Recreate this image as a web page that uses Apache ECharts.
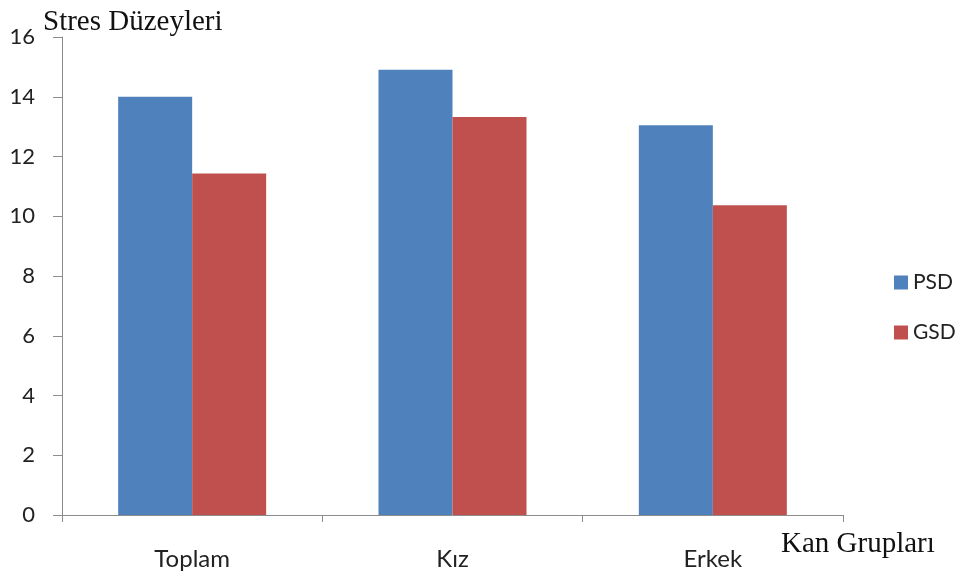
<!DOCTYPE html>
<html>
<head>
<meta charset="utf-8">
<script src="https://cdn.jsdelivr.net/npm/echarts@6/dist/echarts.min.js"></script>
<style>
  html, body { margin: 0; padding: 0; background: #fff; }
  #chart { width: 960px; height: 575px; }
</style>
</head>
<body>
<div id="chart"></div>
<script>
// categories (blood groups) and the two series
var categories = ['Toplam', 'Kız', 'Erkek'];
var psdValues = [14.0, 14.9, 13.05];
var gsdValues = [11.43, 13.32, 10.37];
var yTicks = { min: 0, max: 16, interval: 2 };

var myChart = echarts.init(document.getElementById('chart'), null, {renderer: 'canvas'});

var option = {
    backgroundColor: '#fff',
    animation: false,
    title: [
        {
            text: 'Stres Düzeyleri',
            left: 38, top: 3,
            textStyle: { fontFamily: 'Liberation Serif', fontSize: 29, fontWeight: 'normal', color: '#111' }
        },
        {
            text: 'Kan Grupları',
            left: 776, top: 525,
            textStyle: { fontFamily: 'Liberation Serif', fontSize: 29, fontWeight: 'normal', color: '#111' }
        }
    ],
    legend: {
        orient: 'vertical',
        left: 889, top: 267,
        itemWidth: 14, itemHeight: 14,
        itemGap: 29,
        icon: 'rect',
        textStyle: { fontFamily: 'Lato', fontSize: 21, color: '#222' },
        data: ['PSD', 'GSD']
    },
    grid: { left: 62, right: 117, top: 37, bottom: 60, containLabel: false },
    xAxis: {
        type: 'category',
        data: categories,
        axisLine: { lineStyle: { color: '#8c8c8c', width: 1 } },
        axisTick: { show: true, length: 7, alignWithLabel: false, lineStyle: { color: '#8c8c8c' } },
        axisLabel: { margin: 32, fontFamily: 'Lato', fontSize: 24, color: '#222' }
    },
    yAxis: {
        type: 'value',
        min: yTicks.min, max: yTicks.max, interval: yTicks.interval,
        axisLine: { show: true, lineStyle: { color: '#8c8c8c', width: 1 } },
        axisTick: { show: true, length: 9, inside: false, lineStyle: { color: '#8c8c8c' } },
        splitLine: { show: false },
        axisLabel: { margin: 27, fontFamily: 'Lato', fontSize: 22, color: '#222' }
    },
    series: [
        {
            name: 'PSD',
            type: 'bar',
            data: psdValues,
            barWidth: 74,
            barGap: '0%',
            itemStyle: { color: '#4F81BD' }
        },
        {
            name: 'GSD',
            type: 'bar',
            data: gsdValues,
            barWidth: 74,
            barGap: '0%',
            itemStyle: { color: '#C0504D' }
        }
    ]
};
myChart.setOption(option);
</script>
</body>
</html>
